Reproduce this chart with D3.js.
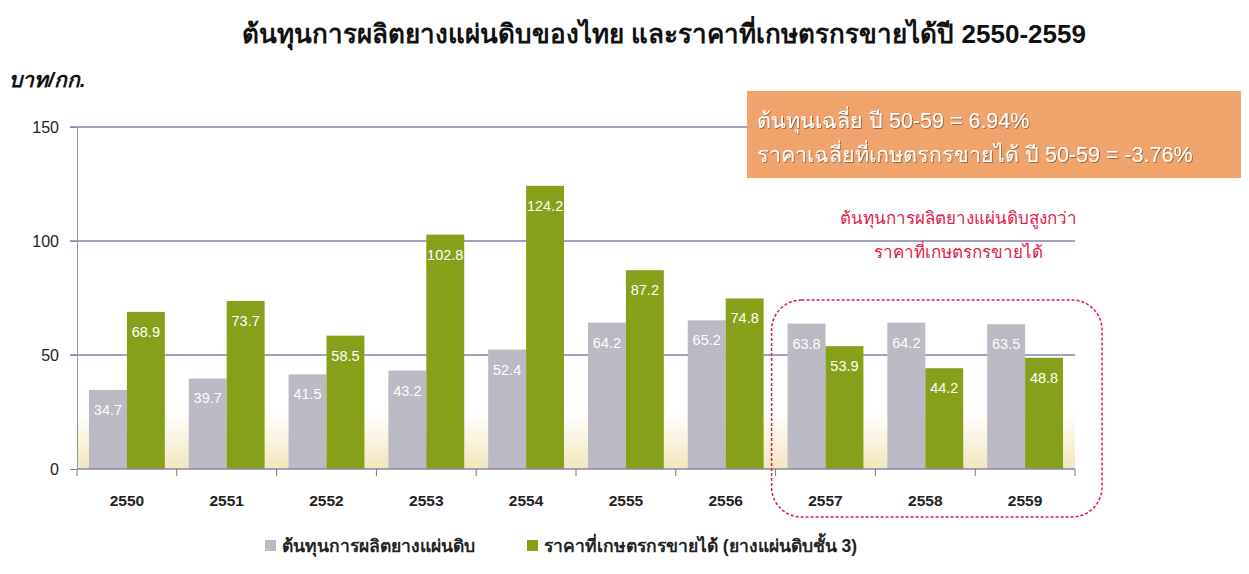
<!DOCTYPE html>
<html>
<head>
<meta charset="utf-8">
<script src="https://cdn.jsdelivr.net/npm/d3@7"></script>
<style>
  body { margin: 0; background: #fff; }
  svg { font-family: "Liberation Sans", Arial, sans-serif; }
</style>
</head>
<body>
<div id="chart"></div>
<script>
// data
var years = ["2550", "2551", "2552", "2553", "2554", "2555", "2556", "2557", "2558", "2559"];
var costValues = [34.7, 39.7, 41.5, 43.2, 52.4, 64.2, 65.2, 63.8, 64.2, 63.5];
var priceValues = [68.9, 73.7, 58.5, 102.8, 124.2, 87.2, 74.8, 53.9, 44.2, 48.8];
var yTicks = [0, 50, 100, 150];
var seriesNames = ["ต้นทุนการผลิตยางแผ่นดิบ", "ราคาที่เกษตรกรขายได้ (ยางแผ่นดิบชั้น 3)"];
var boxLines = ["ต้นทุนเฉลี่ย ปี 50-59 = 6.94%", "ราคาเฉลี่ยที่เกษตรกรขายได้ ปี 50-59 = -3.76%"];
var noteLines = ["ต้นทุนการผลิตยางแผ่นดิบสูงกว่า", "ราคาที่เกษตรกรขายได้"];
var highlightYears = ["2557", "2559"];

var colors = ["#bab9c4", "#87a01a"];

var width = 1249, height = 574;
var plotLeft = 77, plotRight = 1075, plotTop = 127, plotBottom = 469;

var svg = d3.select("#chart").append("svg")
    .attr("width", width)
    .attr("height", height);

var defs = svg.append("defs");
var grad = defs.append("linearGradient")
    .attr("id", "floor")
    .attr("x1", 0).attr("y1", 1).attr("x2", 0).attr("y2", 0);
grad.append("stop").attr("offset", "0%").attr("stop-color", "#f3e6bd");
grad.append("stop").attr("offset", "100%").attr("stop-color", "#ffffff");

var shadow = defs.append("filter").attr("id", "shadow");
shadow.append("feDropShadow")
    .attr("dx", 1).attr("dy", 1).attr("stdDeviation", 0.6)
    .attr("flood-color", "#8a5a30").attr("flood-opacity", 0.8);

// scales
var x0 = d3.scaleBand()
    .domain(years)
    .range([plotLeft, plotRight])
    .paddingInner(0.24)
    .paddingOuter(0.12);
var x1 = d3.scaleBand()
    .domain([0, 1])
    .range([0, x0.bandwidth()]);
var y = d3.scaleLinear()
    .domain([0, 150])
    .range([plotBottom, plotTop]);

// title
svg.append("text")
    .attr("x", 664).attr("y", 43)
    .attr("text-anchor", "middle")
    .attr("font-size", 26).attr("font-weight", "bold")
    .attr("fill", "#111")
    .text("ต้นทุนการผลิตยางแผ่นดิบของไทย และราคาที่เกษตรกรขายได้ปี 2550-2559");

// unit label
svg.append("text")
    .attr("x", 9).attr("y", 87)
    .attr("font-size", 21).attr("font-weight", "bold").attr("font-style", "italic")
    .attr("fill", "#111")
    .text("บาท/กก.");

// floor gradient
svg.append("rect")
    .attr("x", plotLeft).attr("y", y(25))
    .attr("width", plotRight - plotLeft).attr("height", plotBottom - y(25))
    .attr("fill", "url(#floor)");

// gridlines
svg.append("g").selectAll("line")
    .data(yTicks.filter(function (d) { return d > 0; }))
    .enter().append("line")
    .attr("x1", plotLeft - 7).attr("x2", plotRight)
    .attr("y1", function (d) { return y(d); })
    .attr("y2", function (d) { return y(d); })
    .attr("stroke", "#8480b0").attr("stroke-width", 1.3);

// y axis
var yAxis = d3.axisLeft(y).tickValues(yTicks).tickSize(7).tickPadding(11);
var gy = svg.append("g")
    .attr("transform", "translate(" + plotLeft + ",0)")
    .call(yAxis);
gy.select(".domain").attr("stroke", "#999");
gy.selectAll(".tick line").attr("stroke", "#8480b0");
gy.selectAll(".tick text")
    .attr("font-size", 16).attr("fill", "#222")
    .attr("font-family", "Liberation Sans, Arial, sans-serif");

// bars
var groups = svg.append("g").selectAll("g")
    .data(years)
    .enter().append("g")
    .attr("transform", function (d) { return "translate(" + x0(d) + ",0)"; });

[costValues, priceValues].forEach(function (vals, s) {
    groups.append("rect")
        .attr("x", x1(s))
        .attr("y", function (d, i) { return y(vals[i]); })
        .attr("width", x1.bandwidth())
        .attr("height", function (d, i) { return plotBottom - y(vals[i]); })
        .attr("fill", colors[s]);
    groups.append("text")
        .attr("x", x1(s) + x1.bandwidth() / 2)
        .attr("y", function (d, i) { return y(vals[i]) + 25; })
        .attr("text-anchor", "middle")
        .attr("font-size", 14.5)
        .attr("fill", "#fff")
        .text(function (d, i) { return vals[i].toFixed(1); });
});

// x axis
var step = x0.step();
var gx = svg.append("g")
    .attr("transform", "translate(0," + plotBottom + ")");
gx.append("line")
    .attr("x1", plotLeft).attr("x2", plotRight)
    .attr("stroke", "#8a86a8").attr("stroke-width", 1.5);
gx.selectAll(".tk")
    .data(years.concat(["end"]))
    .enter().append("line")
    .attr("class", "tk")
    .attr("x1", function (d, i) { return plotLeft + i * step; })
    .attr("x2", function (d, i) { return plotLeft + i * step; })
    .attr("y1", 0).attr("y2", 7)
    .attr("stroke", "#777");
gx.selectAll("text")
    .data(years)
    .enter().append("text")
    .attr("x", function (d) { return x0(d) + x0.bandwidth() / 2; })
    .attr("y", 37)
    .attr("text-anchor", "middle")
    .attr("font-size", 15.5).attr("font-weight", "bold")
    .attr("fill", "#222")
    .text(function (d) { return d; });

// highlight box around the last years
var hx0 = x0(highlightYears[0]) - 16;
var hx1 = x0(highlightYears[1]) + x0.bandwidth() + 39;
svg.append("rect")
    .attr("x", hx0).attr("y", 300)
    .attr("width", hx1 - hx0).attr("height", 217)
    .attr("rx", 30).attr("ry", 30)
    .attr("fill", "none")
    .attr("stroke", "#e0164a").attr("stroke-width", 1.5)
    .attr("stroke-dasharray", "3,2");

// note text
svg.append("g").selectAll("text")
    .data(noteLines)
    .enter().append("text")
    .attr("x", 958)
    .attr("y", function (d, i) { return 224 + i * 34; })
    .attr("text-anchor", "middle")
    .attr("font-size", 17)
    .attr("fill", "#e0204a")
    .text(function (d) { return d; });

// orange summary box
svg.append("rect")
    .attr("x", 747).attr("y", 91)
    .attr("width", 494).attr("height", 87)
    .attr("fill", "#f0a46c");
svg.append("g").selectAll("text")
    .data(boxLines)
    .enter().append("text")
    .attr("x", 757)
    .attr("y", function (d, i) { return 128 + i * 34; })
    .attr("font-size", 21.5)
    .attr("fill", "#fff")
    .attr("filter", "url(#shadow)")
    .text(function (d) { return d; });

// legend
var legendX = [265, 527];
var legend = svg.append("g").selectAll("g")
    .data(seriesNames)
    .enter().append("g")
    .attr("transform", function (d, i) { return "translate(" + legendX[i] + ",540)"; });
legend.append("rect")
    .attr("width", 11).attr("height", 11)
    .attr("fill", function (d, i) { return colors[i]; });
legend.append("text")
    .attr("x", 17).attr("y", 12)
    .attr("font-size", 17.5).attr("font-weight", "bold")
    .attr("fill", "#222")
    .text(function (d) { return d; });
</script>
</body>
</html>
